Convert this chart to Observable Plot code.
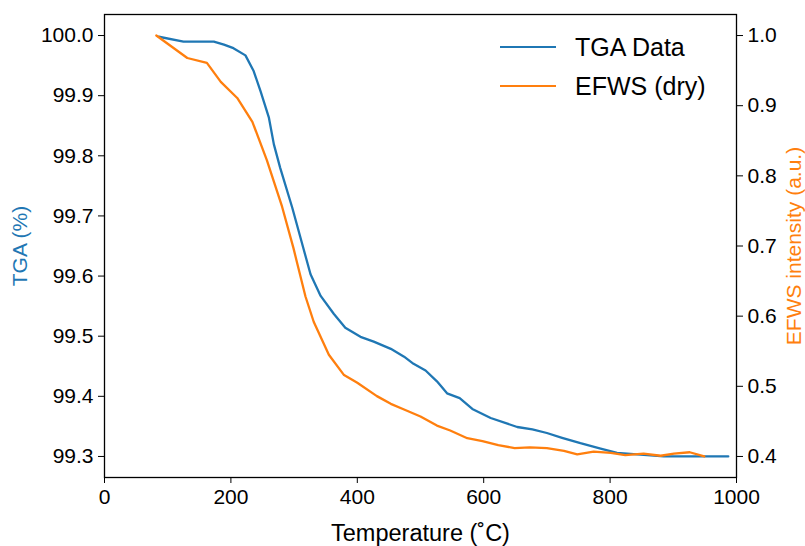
<!DOCTYPE html>
<html>
<head>
<meta charset="utf-8">
<script src="https://cdn.jsdelivr.net/npm/d3@7"></script>
<script src="https://cdn.jsdelivr.net/npm/@observablehq/plot@0.6"></script>
<style>
  html, body { margin: 0; padding: 0; background: #fff; }
  #wrap { position: relative; width: 805px; height: 546px; font-family: "Liberation Sans", Arial, sans-serif; }
  .leg { position: absolute; display: flex; align-items: center; font-size: 25px; line-height: 30px; color: #000; white-space: nowrap; }
  .leg span.sw { display: inline-block; width: 56px; height: 0; border-top: 2.4px solid; margin-right: 19px; }
</style>
</head>
<body>
<div id="wrap"></div>
<script>
// Temperature (°C) and TGA (%)
const tgaTemp = [86,125,173,189,204,223,236,247,260,268,278,297,315,326,342,363,381,405,426,453,474,489,508,526,542,562,582,611,653,677,700,724,753,785,811,848,885,987];
const tgaValue = [99.998,99.990,99.990,99.985,99.979,99.967,99.941,99.907,99.864,99.819,99.780,99.714,99.645,99.603,99.567,99.537,99.514,99.499,99.491,99.479,99.466,99.454,99.443,99.425,99.405,99.397,99.379,99.364,99.349,99.345,99.339,99.331,99.322,99.313,99.306,99.303,99.300,99.300];
// Temperature (°C) and EFWS intensity (a.u.)
const efwsTemp = [82,131,162,184,210,234,257,281,299,305,318,331,355,379,400,431,453,474,500,526,547,574,598,623,649,673,700,727,748,774,801,824,853,880,901,926,949];
const efwsValue = [1.000,0.968,0.961,0.934,0.911,0.877,0.822,0.756,0.697,0.675,0.628,0.592,0.545,0.516,0.505,0.486,0.475,0.467,0.457,0.444,0.437,0.426,0.422,0.416,0.412,0.413,0.412,0.408,0.403,0.407,0.405,0.402,0.404,0.401,0.404,0.406,0.400];

const xTicks = [0,200,400,600,800,1000];
const tgaTicks = [99.3,99.4,99.5,99.6,99.7,99.8,99.9,100.0];
const efwsTicks = [0.4,0.5,0.6,0.7,0.8,0.9,1.0];

const tgaDomain = [99.265, 100.035];
const efwsDomain = [0.37, 1.03];
const blue = "#1f77b4", orange = "#ff7f0e";

// map EFWS onto the TGA (left) scale
const toLeft = e => tgaDomain[0] + (e - efwsDomain[0]) / (efwsDomain[1] - efwsDomain[0]) * (tgaDomain[1] - tgaDomain[0]);
const fromLeft = t => efwsDomain[0] + (t - tgaDomain[0]) / (tgaDomain[1] - tgaDomain[0]) * (efwsDomain[1] - efwsDomain[0]);

const tga = tgaTemp.map((t, i) => ({t, v: tgaValue[i]}));
const efws = efwsTemp.map((t, i) => ({t, v: toLeft(efwsValue[i])}));

const chart = Plot.plot({
  width: 805,
  height: 546,
  marginTop: 14,
  marginBottom: 69,
  marginLeft: 104,
  marginRight: 69,
  style: {fontFamily: "'Liberation Sans', Arial, sans-serif", fontSize: "21px", color: "#000", background: "#fff"},
  x: {domain: [0, 1000]},
  y: {domain: tgaDomain},
  marks: [
    Plot.line(tga, {x: "t", y: "v", stroke: blue, strokeWidth: 2.3}),
    Plot.line(efws, {x: "t", y: "v", stroke: orange, strokeWidth: 2.3}),
    Plot.frame({stroke: "#000", strokeWidth: 1.3}),
    Plot.axisX({ticks: xTicks, tickFormat: d => String(d), tickSize: 6, tickPadding: 6, label: null, fontSize: 21}),
    Plot.axisY({anchor: "left", ticks: tgaTicks, tickFormat: d => d.toFixed(1), tickSize: 6, tickPadding: 5, label: null, fontSize: 21}),
    Plot.axisY({anchor: "right", ticks: efwsTicks.map(toLeft), tickFormat: d => fromLeft(d).toFixed(1), tickSize: 6, tickPadding: 5, label: null, fontSize: 21}),
    Plot.text(["TGA (%)"], {frameAnchor: "left", dx: -84, rotate: -90, textAnchor: "middle", lineAnchor: "middle", fill: blue, fontSize: 21}),
    Plot.text(["EFWS intensity (a.u.)"], {frameAnchor: "right", dx: 58, rotate: -90, textAnchor: "middle", lineAnchor: "middle", fill: orange, fontSize: 21}),
    Plot.text(["Temperature (˚C)"], {frameAnchor: "bottom", dy: 56, lineAnchor: "middle", fill: "#000", fontSize: 23.5})
  ]
});
const wrap = document.getElementById("wrap");
wrap.appendChild(chart);

const legendItems = [["TGA Data", blue], ["EFWS (dry)", orange]];
legendItems.forEach(([label, color], i) => {
  const d = document.createElement("div");
  d.className = "leg";
  d.style.left = "500px";
  d.style.top = (32 + i * 39) + "px";
  const sw = document.createElement("span");
  sw.className = "sw";
  sw.style.borderTopColor = color;
  d.appendChild(sw);
  d.appendChild(document.createTextNode(label));
  wrap.appendChild(d);
});
</script>
</body>
</html>
